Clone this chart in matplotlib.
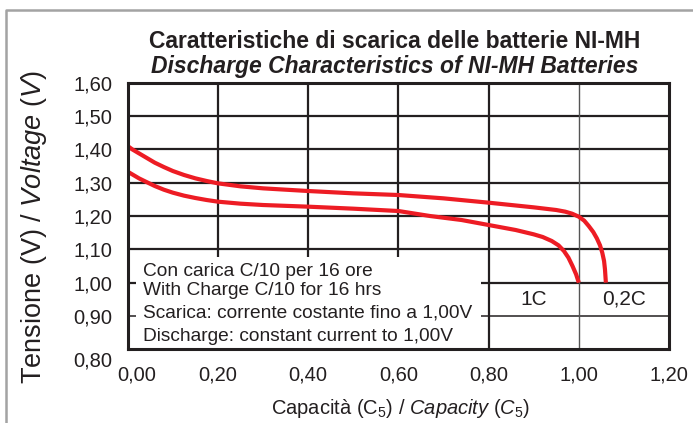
import numpy as np
import matplotlib
matplotlib.use('Agg')
import matplotlib.pyplot as plt
from matplotlib.patches import Rectangle
from matplotlib.lines import Line2D
from matplotlib.transforms import ScaledTranslation

plt.rcParams['font.family'] = ['Liberation Sans', 'DejaVu Sans']
plt.rcParams['mathtext.fontset'] = 'custom'
plt.rcParams['mathtext.rm'] = 'Liberation Sans'
plt.rcParams['mathtext.it'] = 'Liberation Sans:italic'

# data
cap_02c = [0.00, 0.01, 0.025, 0.04, 0.06, 0.08, 0.10, 0.125, 0.15, 0.175, 0.20, 0.25,
           0.30, 0.35, 0.40, 0.50, 0.60, 0.70, 0.80, 0.90, 0.95, 0.97, 0.985, 1.00,
           1.012, 1.022, 1.032, 1.04, 1.047, 1.052, 1.056, 1.058, 1.06]
volt_02c = [1.41, 1.40, 1.388, 1.376, 1.36, 1.347, 1.335, 1.323, 1.313, 1.305, 1.298, 1.289,
            1.283, 1.279, 1.275, 1.268, 1.263, 1.253, 1.24, 1.226, 1.218, 1.213, 1.207, 1.198,
            1.186, 1.17, 1.152, 1.133, 1.112, 1.09, 1.065, 1.04, 1.00]

cap_1c = [0.00, 0.01, 0.025, 0.04, 0.06, 0.08, 0.10, 0.125, 0.15, 0.175, 0.20, 0.25,
          0.30, 0.40, 0.50, 0.60, 0.67, 0.74, 0.80, 0.86, 0.90, 0.92, 0.94, 0.955,
          0.967, 0.977, 0.986, 0.994, 1.00]
volt_1c = [1.333, 1.325, 1.313, 1.303, 1.29, 1.279, 1.27, 1.261, 1.254, 1.248, 1.243, 1.237,
           1.233, 1.228, 1.222, 1.215, 1.2, 1.188, 1.173, 1.158, 1.145, 1.137, 1.125, 1.112,
           1.095, 1.075, 1.05, 1.025, 1.00]

x_ticks = [0.0, 0.2, 0.4, 0.6, 0.8, 1.0, 1.2]
y_ticks = [0.8, 0.9, 1.0, 1.1, 1.2, 1.3, 1.4, 1.5, 1.6]
x_labels = ['0,00', '0,20', '0,40', '0,60', '0,80', '1,00', '1,20']
y_labels = ['0,80', '0,90', '1,00', '1,10', '1,20', '1,30', '1,40', '1,50', '1,60']

notes = ['Con carica C/10 per 16 ore', 'With Charge C/10 for 16 hrs',
         'Scarica: corrente costante fino a 1,00V', 'Discharge: constant current to 1,00V']
note_y = [1.02, 0.963, 0.894, 0.825]

red = '#ed1c24'
ink = '#231f20'

fig = plt.figure(figsize=(6.93, 4.23), dpi=100)
ax = fig.add_axes([0.1843, 0.1742, 0.7811, 0.6303])
ax.set_xlim(0, 1.2)
ax.set_ylim(0.8, 1.6)

# grid
for y in y_ticks[1:-1]:
    lw = 1.1 if y == 0.9 else 1.6
    ax.axhline(y, color=ink, lw=lw, zorder=1)
for x in x_ticks[1:-1]:
    if x == 1.0:
        ax.axvline(x, color='#555555', lw=1.0, zorder=1)
    else:
        ax.axvline(x, color=ink, lw=1.6, zorder=1)

# white box over the grid for the notes, leaving short stubs
dx = 8 / 451.0
dy = 8 / 333.3
ax.add_patch(Rectangle((dx, 0.8), 0.8 - 2 * dx, 0.3 - dy, facecolor='white',
                       edgecolor='none', zorder=2))

ax.plot(cap_02c, volt_02c, color=red, lw=3.0, solid_capstyle='butt',
        solid_joinstyle='round', zorder=3)
ax.plot(cap_1c, volt_1c, color=red, lw=3.0, solid_capstyle='butt',
        solid_joinstyle='round', zorder=3)

for sp in ax.spines.values():
    sp.set_linewidth(2.2)
    sp.set_color(ink)
    sp.set_zorder(4)

ax.set_xticks(x_ticks)
ax.set_xticklabels(x_labels)
ax.set_yticks(y_ticks)
ax.set_yticklabels(y_labels)
ax.tick_params(length=0, labelsize=14.5, labelcolor=ink)
ax.tick_params(axis='x', pad=12)
ax.tick_params(axis='y', pad=11)

# shift the corner labels apart like the reference
lab0 = ax.get_xticklabels()[0]
lab0.set_transform(lab0.get_transform() + ScaledTranslation(9 / 100, 0, fig.dpi_scale_trans))
lab1 = ax.get_yticklabels()[0]
lab1.set_transform(lab1.get_transform() + ScaledTranslation(0, -10 / 100, fig.dpi_scale_trans))

for txt, y in zip(notes, note_y):
    ax.text(0.034, y, txt, fontsize=13.8, color=ink, va='baseline', ha='left', zorder=5)

ax.text(0.9, 0.95, '1C', fontsize=15, color=ink, ha='center', va='center', zorder=5)
ax.text(1.1, 0.95, '0,2C', fontsize=15, color=ink, ha='center', va='center', zorder=5)

fig.text(395 / 693, 1 - 48 / 423, 'Caratteristiche di scarica delle batterie NI-MH',
         fontsize=16.5, fontweight='bold', color=ink, ha='center', va='baseline')
fig.text(395 / 693, 1 - 73 / 423, 'Discharge Characteristics of NI-MH Batteries',
         fontsize=16.5, fontweight='bold', fontstyle='italic', color=ink, ha='center', va='baseline')

fig.text(401 / 693, 1 - 408 / 423, r'Capacità (C$_5$) / $\mathit{Capacity\ (C_5)}$',
         fontsize=14.5, color=ink, ha='center', va='center')
fig.text(34 / 693, 1 - 227 / 423, r'Tensione (V) / $\mathit{Voltage\ (V)}$',
         fontsize=19.5, color=ink, ha='center', va='center', rotation=90)

# grey frame around the figure
fig.add_artist(Line2D([6 / 693, 6 / 693, 1.0], [0.0, 1 - 10.5 / 423, 1 - 10.5 / 423],
                      transform=fig.transFigure, color='#a3a3a3', lw=1.8))

fig.savefig('out.png', dpi=100)
